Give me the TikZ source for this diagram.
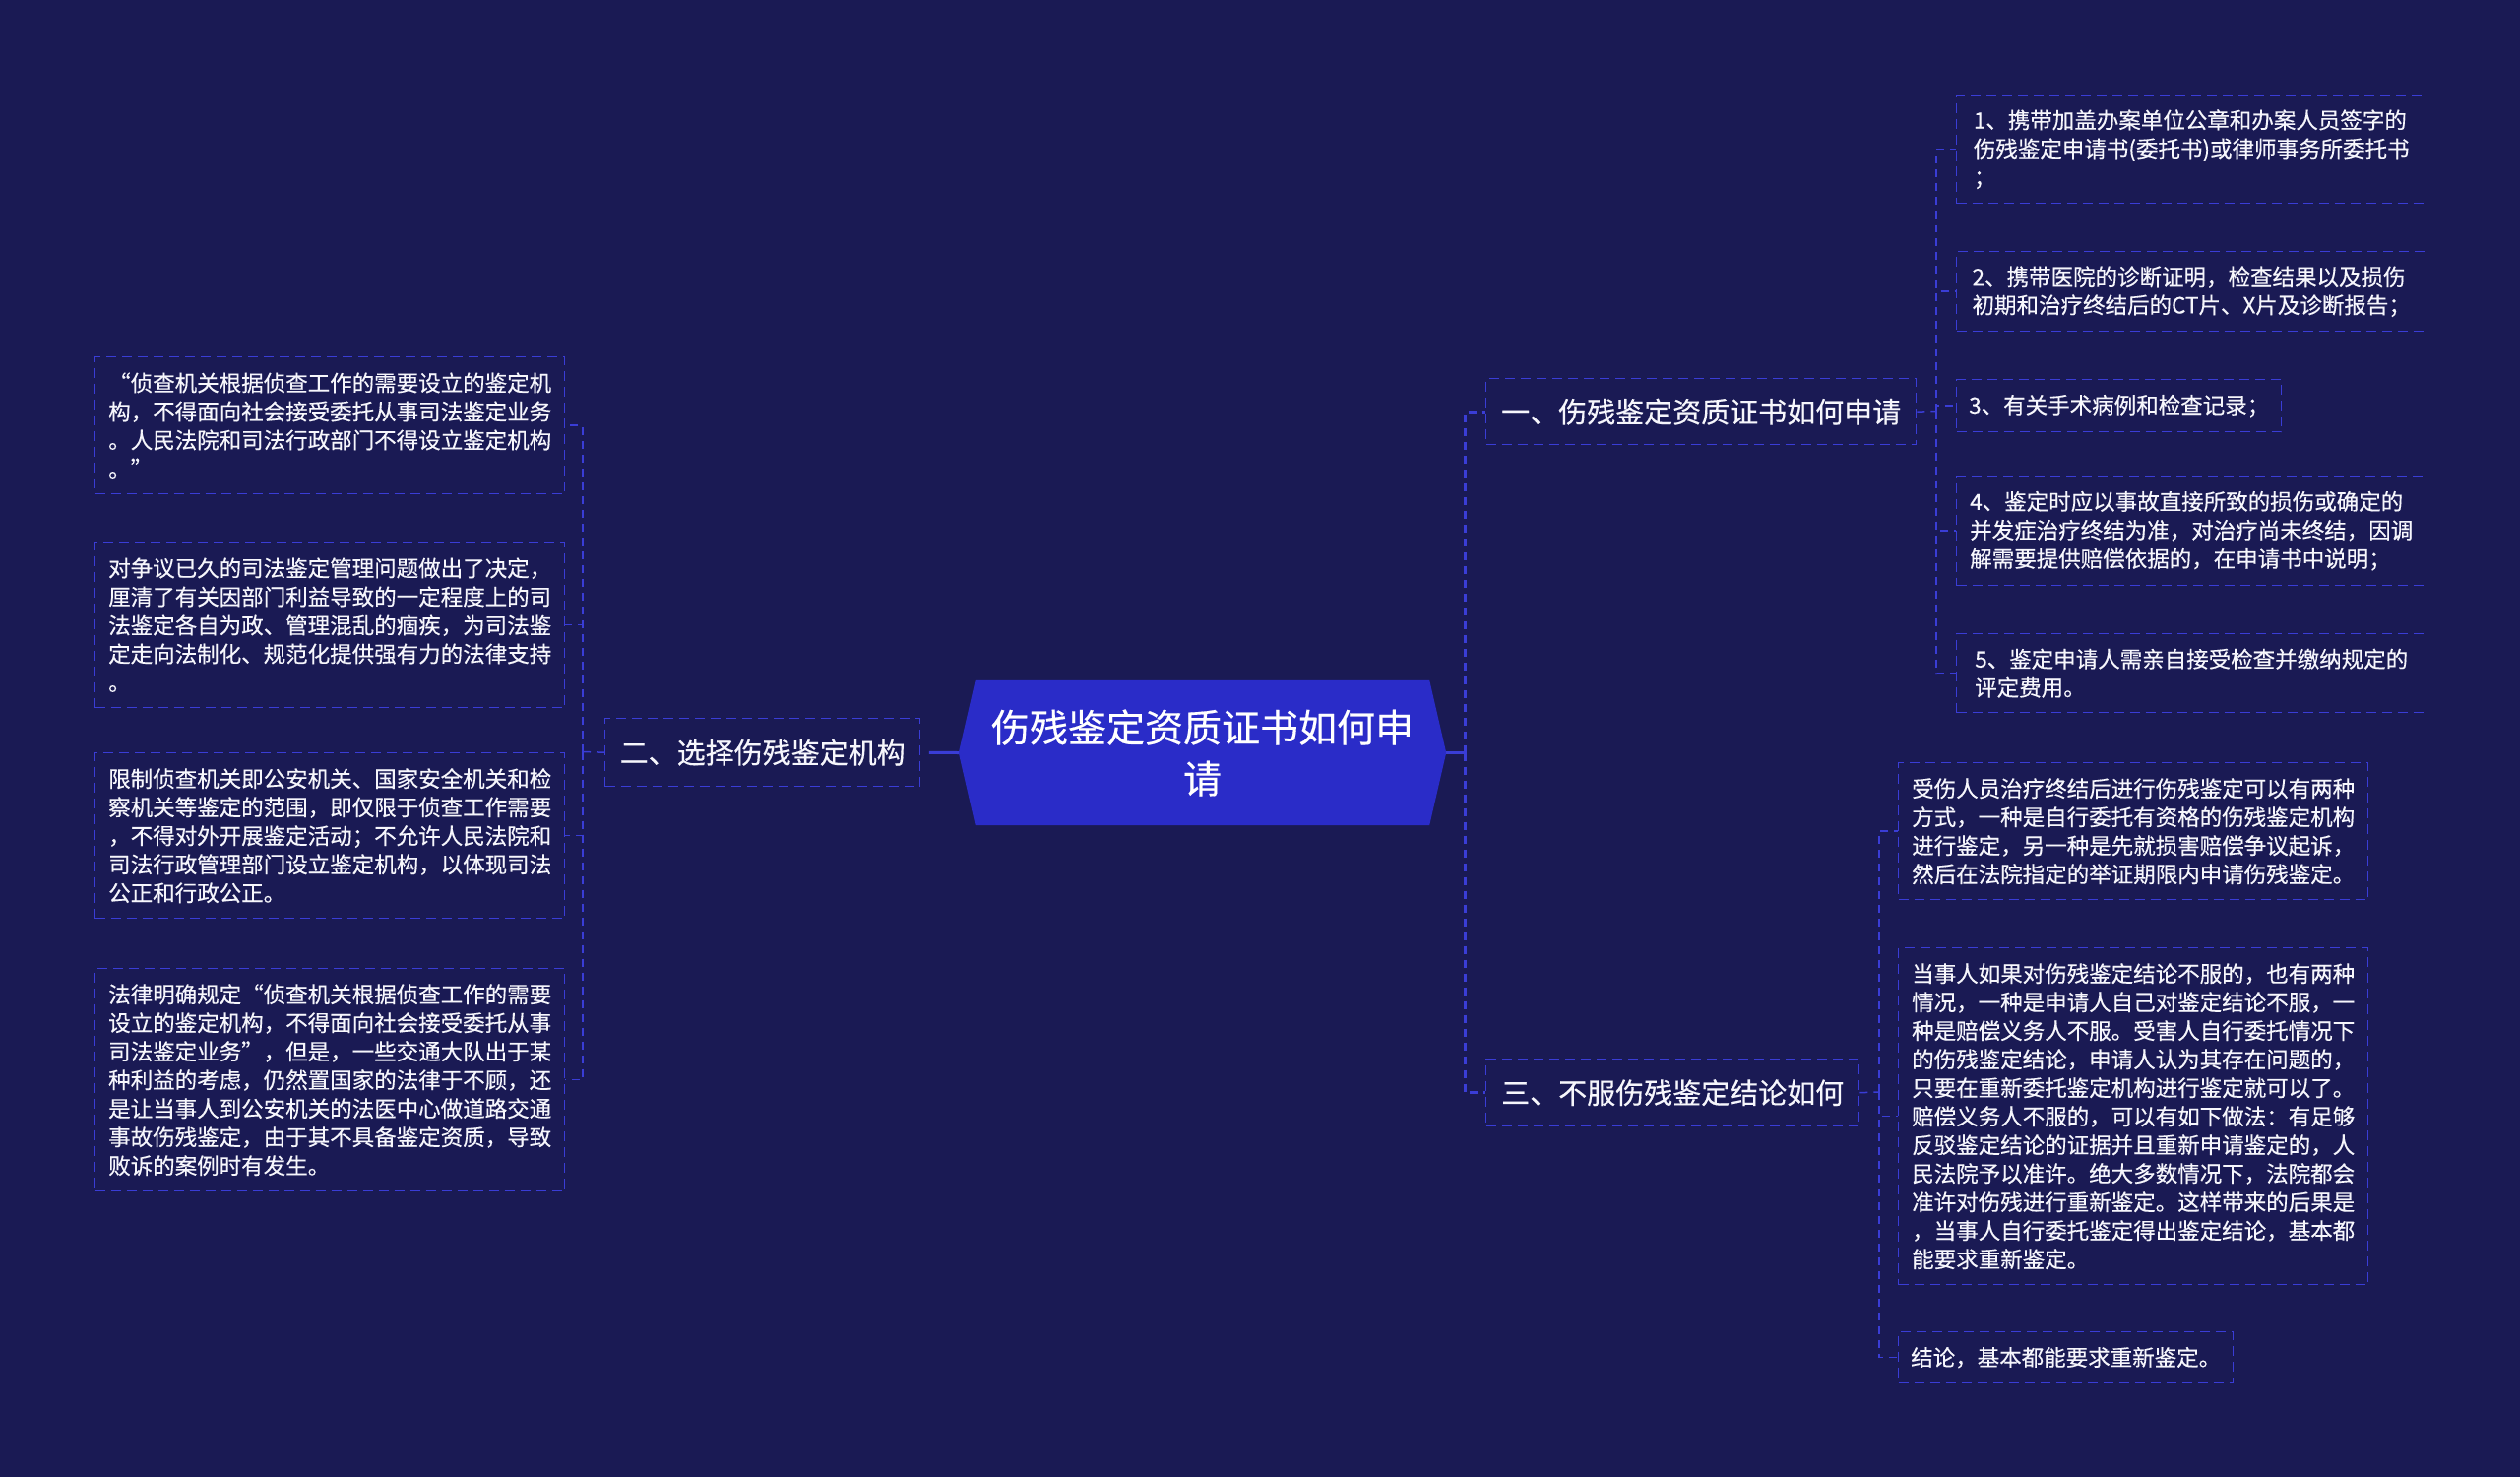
\documentclass[tikz,border=0pt]{standalone}
\usepackage{fontspec}
\newfontfamily\cjk[FakeBold=0.35]{Noto Sans CJK SC}
\usetikzlibrary{backgrounds}
\definecolor{bgc}{HTML}{1A1A54}
\definecolor{hexc}{HTML}{2A2CC8}
\definecolor{dashc}{HTML}{3A3DD6}
\definecolor{txtc}{HTML}{F6F6FC}
\begin{document}
\begin{tikzpicture}[x=1pt,y=-1pt,
  leaf/.style={draw=dashc, line width=1.4pt, dash pattern=on 10pt off 6pt, inner sep=0pt,
    anchor=north west, align=left, text=txtc, font=\cjk\fontsize{22.5pt}{29pt}\selectfont},
  branch/.style={draw=dashc, line width=1.4pt, dash pattern=on 10pt off 6pt, inner sep=0pt,
    anchor=north west, align=left, text=txtc, font=\cjk\fontsize{29pt}{35pt}\selectfont},
  rootbox/.style={draw=none, inner sep=0pt, align=center, text=white,
    minimum width=495pt, minimum height=147pt, font=\cjk\fontsize{39pt}{52pt}\selectfont},
  mainline/.style={draw=dashc, line width=3pt},
  spine/.style={draw=dashc, line width=3pt, dash pattern=on 8pt off 6pt},
  conn/.style={draw=dashc, line width=1.5pt, dash pattern=on 8pt off 6pt}
]
\useasboundingbox (0,0) rectangle (2560,1500);

% root
\node[rootbox] (root) at (1221.5,764.5) {伤残鉴定资质证书如何申\\请};

% branches
\node[branch, minimum width=437pt, minimum height=67pt] (br1) at (1509,384) {一、伤残鉴定资质证书如何申请};
\node[branch, minimum width=320pt, minimum height=69pt] (br2) at (614,729) {二、选择伤残鉴定机构};
\node[branch, minimum width=379pt, minimum height=68pt] (br3) at (1509,1075) {三、不服伤残鉴定结论如何};

% children of branch 1
\node[leaf, minimum width=477pt, minimum height=110pt] (c11) at (1987,96)
 {1、携带加盖办案单位公章和办案人员签字的\\伤残鉴定申请书(委托书)或律师事务所委托书\\；};
\node[leaf, minimum width=477pt, minimum height=81pt] (c12) at (1987,255)
 {2、携带医院的诊断证明，检查结果以及损伤\\初期和治疗终结后的CT片、X片及诊断报告；};
\node[leaf, minimum width=330pt, minimum height=53pt] (c13) at (1987,385)
 {3、有关手术病例和检查记录；};
\node[leaf, minimum width=477pt, minimum height=111pt] (c14) at (1987,483)
 {4、鉴定时应以事故直接所致的损伤或确定的\\并发症治疗终结为准，对治疗尚未终结，因调\\解需要提供赔偿依据的，在申请书中说明；};
\node[leaf, minimum width=477pt, minimum height=80pt] (c15) at (1987,643)
 {5、鉴定申请人需亲自接受检查并缴纳规定的\\评定费用。};

% children of branch 2
\node[leaf, minimum width=477pt, minimum height=139pt] (c21) at (96,362)
 {“侦查机关根据侦查工作的需要设立的鉴定机\\构，不得面向社会接受委托从事司法鉴定业务\\。人民法院和司法行政部门不得设立鉴定机构\\。”};
\node[leaf, minimum width=477pt, minimum height=168pt] (c22) at (96,550)
 {对争议已久的司法鉴定管理问题做出了决定，\\厘清了有关因部门利益导致的一定程度上的司\\法鉴定各自为政、管理混乱的痼疾，为司法鉴\\定走向法制化、规范化提供强有力的法律支持\\。};
\node[leaf, minimum width=477pt, minimum height=168pt] (c23) at (96,764)
 {限制侦查机关即公安机关、国家安全机关和检\\察机关等鉴定的范围，即仅限于侦查工作需要\\，不得对外开展鉴定活动；不允许人民法院和\\司法行政管理部门设立鉴定机构，以体现司法\\公正和行政公正。};
\node[leaf, minimum width=477pt, minimum height=226pt] (c24) at (96,983)
 {法律明确规定“侦查机关根据侦查工作的需要\\设立的鉴定机构，不得面向社会接受委托从事\\司法鉴定业务”，但是，一些交通大队出于某\\种利益的考虑，仍然置国家的法律于不顾，还\\是让当事人到公安机关的法医中心做道路交通\\事故伤残鉴定，由于其不具备鉴定资质，导致\\败诉的案例时有发生。};

% children of branch 3
\node[leaf, minimum width=477pt, minimum height=139pt] (c31) at (1928,774)
 {受伤人员治疗终结后进行伤残鉴定可以有两种\\方式，一种是自行委托有资格的伤残鉴定机构\\进行鉴定，另一种是先就损害赔偿争议起诉，\\然后在法院指定的举证期限内申请伤残鉴定。};
\node[leaf, minimum width=477pt, minimum height=342pt] (c32) at (1928,962)
 {当事人如果对伤残鉴定结论不服的，也有两种\\情况，一种是申请人自己对鉴定结论不服，一\\种是赔偿义务人不服。受害人自行委托情况下\\的伤残鉴定结论，申请人认为其存在问题的，\\只要在重新委托鉴定机构进行鉴定就可以了。\\赔偿义务人不服的，可以有如下做法：有足够\\反驳鉴定结论的证据并且重新申请鉴定的，人\\民法院予以准许。绝大多数情况下，法院都会\\准许对伤残进行重新鉴定。这样带来的后果是\\，当事人自行委托鉴定得出鉴定结论，基本都\\能要求重新鉴定。};
\node[leaf, minimum width=340pt, minimum height=52pt] (c33) at (1928,1352)
 {结论，基本都能要求重新鉴定。};

% spine points
\coordinate (sR) at (1488,764.5);
\coordinate (s1) at (1967,417.5);
\coordinate (s2) at (592,763.5);
\coordinate (s3) at (1909,1109);

% main connectors
\draw[mainline, dash pattern=on 30pt off 9pt on 3pt off 0pt] (root.west) -- (br2.east);
\draw[mainline] (root.east) -- (sR);
\draw[spine] (sR) |- (br1.west);
\draw[spine] (sR) |- (br3.west);

% branch 1 connectors
\draw[conn] (br1.east) -- (s1);
\foreach \c in {c11,c12,c13,c14,c15} \draw[conn] (s1) |- (\c.west);
% branch 2 connectors
\draw[conn] (br2.west) -- (s2);
\foreach \c in {c21,c22,c23,c24} \draw[conn] (s2) |- (\c.east);
% branch 3 connectors
\draw[conn] (br3.east) -- (s3);
\foreach \c in {c31,c32,c33} \draw[conn] (s3) |- (\c.west);

\begin{pgfonlayer}{background}
\fill[bgc] (0,0) rectangle (2560,1500);
\fill[hexc] ([xshift=17pt]root.north west) -- ([xshift=-17pt]root.north east) -- (root.east)
  -- ([xshift=-17pt]root.south east) -- ([xshift=17pt]root.south west) -- (root.west) -- cycle;
\end{pgfonlayer}
\end{tikzpicture}
\end{document}
